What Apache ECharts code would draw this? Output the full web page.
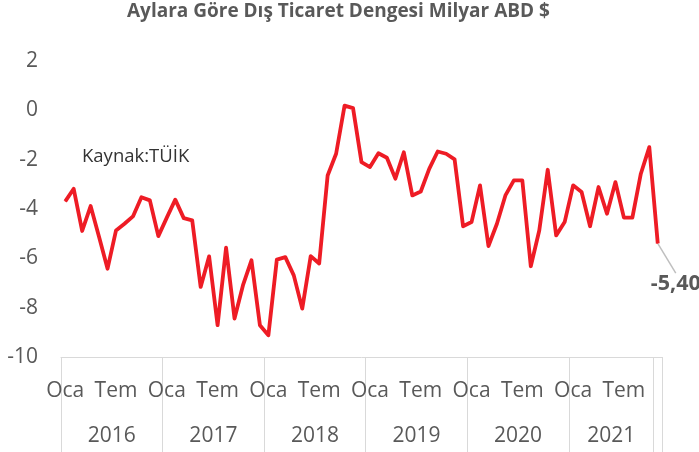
<!DOCTYPE html>
<html>
<head>
<meta charset="utf-8">
<script src="https://cdn.jsdelivr.net/npm/echarts@6/dist/echarts.min.js"></script>
<style>
  html, body { margin: 0; padding: 0; background: #fff; }
  #chartContainer { width: 699px; height: 452px; }
</style>
</head>
<body>
<div id="chartContainer"></div>
<script>
// Aylara gore dis ticaret dengesi (milyar ABD $), Oca 2016 - Kas 2021
var monthNames = ['Oca', 'Şub', 'Mar', 'Nis', 'May', 'Haz', 'Tem', 'Ağu', 'Eyl', 'Eki', 'Kas', 'Ara'];
var years = [2016, 2017, 2018, 2019, 2020, 2021];
var lastMonthCount = 11; // 2021 ends in Kasim

var balance = [
  -3.69, -3.18, -4.89, -3.88, -5.14, -6.42, -4.87, -4.60, -4.30, -3.52, -3.65, -5.10,
  -4.35, -3.62, -4.37, -4.46, -7.16, -5.92, -8.71, -5.57, -8.44, -7.09, -6.08, -8.71,
  -9.12, -6.05, -5.95, -6.69, -8.04, -5.91, -6.21, -2.64, -1.76, 0.19, 0.09, -2.10,
  -2.30, -1.74, -1.92, -2.77, -1.70, -3.45, -3.29, -2.37, -1.67, -1.76, -1.99, -4.70,
  -4.53, -3.04, -5.50, -4.60, -3.45, -2.84, -2.84, -6.32, -4.87, -2.41, -5.07, -4.53,
  -3.04, -3.31, -4.70, -3.11, -4.19, -2.91, -4.35, -4.35, -2.57, -1.49, -5.40
];

var yTicks = [-10, -8, -6, -4, -2, 0, 2];

// month categories built from the lists above
var categories = [];
years.forEach(function (y, i) {
  var n = i === years.length - 1 ? lastMonthCount : 12;
  for (var m = 0; m < n; m++) categories.push(monthNames[m] + ' ' + y);
});

var lastIdx = balance.length - 1;
var seriesData = balance.map(function (v, i) {
  if (i !== lastIdx) return v;
  return {
    value: v,
    label: {
      show: true,
      position: 'bottom',
      distance: 0,
      formatter: function (p) { return p.value.toFixed(2).replace('.', ','); },
      fontFamily: 'Open Sans',
      fontSize: 21.5,
      fontWeight: 'bold',
      color: '#595959'
    },
    labelLine: { show: true, lineStyle: { color: '#bfbfbf', width: 1.5 } }
  };
});

// year label sits in the middle of each year's months
var yearLabelIdx = [5, 17, 29, 41, 53, 64];
var groupBounds = [0, 12, 24, 36, 48, 60, 70];

var myChart = echarts.init(document.getElementById('chartContainer'), null, { renderer: 'canvas' });

var option = {
  animation: false,
  textStyle: { fontFamily: 'Open Sans' },
  title: [{
    text: 'Aylara Göre Dış Ticaret Dengesi Milyar ABD $',
    left: 127,
    top: 2,
    padding: 0,
    textStyle: { fontFamily: 'Open Sans', fontSize: 19, fontWeight: 'bold', color: '#595959' }
  }, {
    text: 'Kaynak:TÜİK',
    left: 82,
    top: 147,
    padding: 0,
    textStyle: { fontFamily: 'Open Sans', fontSize: 18.5, fontWeight: 'normal', color: '#333333' }
  }],
  grid: { left: 61, right: 37, top: 61, bottom: 95 },
  xAxis: [{
    type: 'category',
    data: categories,
    boundaryGap: true,
    axisLine: { onZero: false, lineStyle: { color: '#d9d9d9', width: 1 } },
    axisTick: {
      show: true,
      length: 95,
      interval: function (idx) { return groupBounds.indexOf(idx) >= 0; },
      lineStyle: { color: '#d9d9d9', width: 1 }
    },
    axisLabel: {
      interval: function (idx) { return idx % 6 === 0; },
      formatter: function (v) { return v.split(' ')[0]; },
      margin: 24,
      fontFamily: 'Open Sans',
      fontSize: 21,
      color: '#595959'
    },
    splitLine: { show: false }
  }, {
    type: 'category',
    data: categories,
    position: 'bottom',
    boundaryGap: true,
    axisLine: { show: false, onZero: false },
    axisTick: { show: false },
    axisLabel: {
      interval: function (idx) { return yearLabelIdx.indexOf(idx) >= 0; },
      formatter: function (v) { return v.split(' ')[1]; },
      margin: 69,
      padding: [0, 0, 0, 8.5],
      fontFamily: 'Open Sans',
      fontSize: 21,
      color: '#595959'
    }
  }],
  yAxis: {
    type: 'value',
    min: yTicks[0],
    max: yTicks[yTicks.length - 1],
    interval: 2,
    axisLine: { show: false },
    axisTick: { show: false },
    splitLine: { show: false },
    axisLabel: {
      margin: 23,
      fontFamily: 'Open Sans',
      fontSize: 21,
      color: '#595959'
    }
  },
  series: [{
    name: 'Dış Ticaret Dengesi',
    type: 'line',
    data: seriesData,
    symbol: 'circle',
    symbolSize: 1,
    showSymbol: true,
    showAllSymbol: true,
    smooth: false,
    clip: false,
    lineStyle: { color: '#ee1c25', width: 3.8, join: 'round' },
    itemStyle: { color: '#ee1c25' },
    labelLayout: { dx: 18, dy: 29 }
  }]
};

myChart.setOption(option);
</script>
</body>
</html>
